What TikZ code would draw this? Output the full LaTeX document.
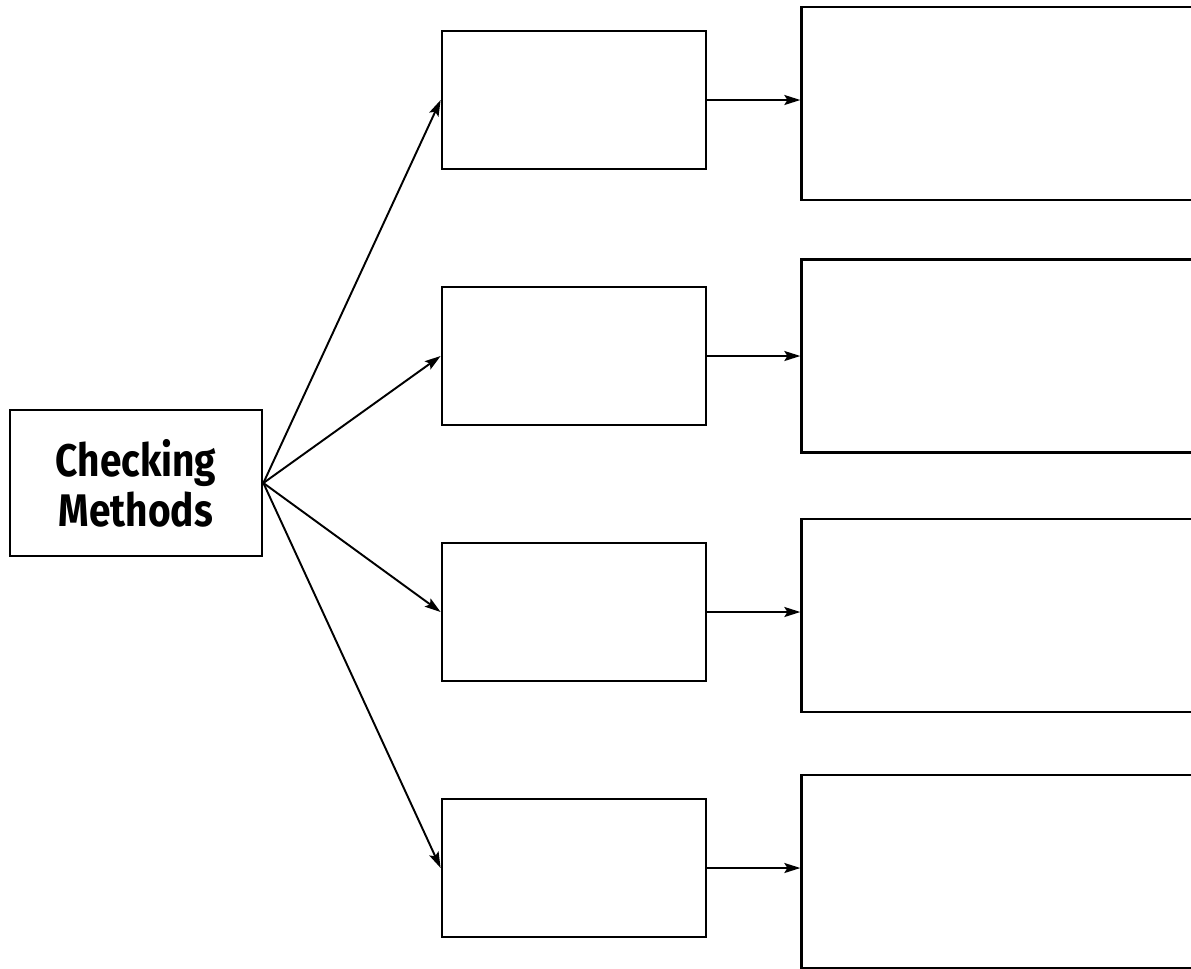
\documentclass[tikz,border=0pt]{standalone}
\usepackage{fontspec}
\setsansfont{Fira Sans}[FakeStretch=0.85]
\usepackage{tikz}
\usetikzlibrary{positioning,arrows.meta}

\tikzset{
  methodBox/.style={draw, line width=1.6pt, minimum width=5.28cm, minimum height=2.76cm},
  resultBox/.style={draw, line width=1.6pt, minimum width=8.2cm, minimum height=3.86cm, anchor=west},
  linkArrow/.style={line width=1.1pt, -{Stealth[length=0.32cm, width=0.2cm, inset=0.06cm]}}
}

\begin{document}
\begin{tikzpicture}[x=0.02cm, y=-0.02cm]

% =====================
% Page frame (picture is cut at right and bottom)
% =====================
\useasboundingbox (0,0) rectangle (1191,968);
\clip (0,0) rectangle (1191,968);

% =====================
% Root box
% =====================
\node[draw, line width=1.6pt, minimum width=5.04cm, minimum height=2.92cm,
      align=center, font=\sffamily\bfseries\fontsize{26}{28.5}\selectfont] (checking) at (136,483)
  {Checking\\Methods};

% =====================
% Method boxes
% =====================
\node[methodBox] (methodA) at (574,100) {};
\node[methodBox] (methodB) at (574,356) {};
\node[methodBox] (methodC) at (574,612) {};
\node[methodBox] (methodD) at (574,868) {};

% =====================
% Result boxes
% =====================
\node[resultBox, right=1.86cm of methodA.east, yshift=-0.07cm] (resultA) {};
\node[resultBox, right=1.86cm of methodB.east] (resultB) {};
\node[resultBox, right=1.86cm of methodC.east, yshift=-0.07cm] (resultC) {};
\node[resultBox, right=1.86cm of methodD.east, yshift=-0.07cm] (resultD) {};

% =====================
% Arrows from the root
% =====================
\draw[linkArrow] (checking.east) -- (methodA.west);
\draw[linkArrow] (checking.east) -- (methodB.west);
\draw[linkArrow] (checking.east) -- (methodC.west);
\draw[linkArrow] (checking.east) -- (methodD.west);

% =====================
% Arrows to the results
% =====================
\draw[linkArrow] (methodA.east) -- (methodA.east -| resultA.west);
\draw[linkArrow] (methodB.east) -- (methodB.east -| resultB.west);
\draw[linkArrow] (methodC.east) -- (methodC.east -| resultC.west);
\draw[linkArrow] (methodD.east) -- (methodD.east -| resultD.west);
\end{tikzpicture}
\end{document}
